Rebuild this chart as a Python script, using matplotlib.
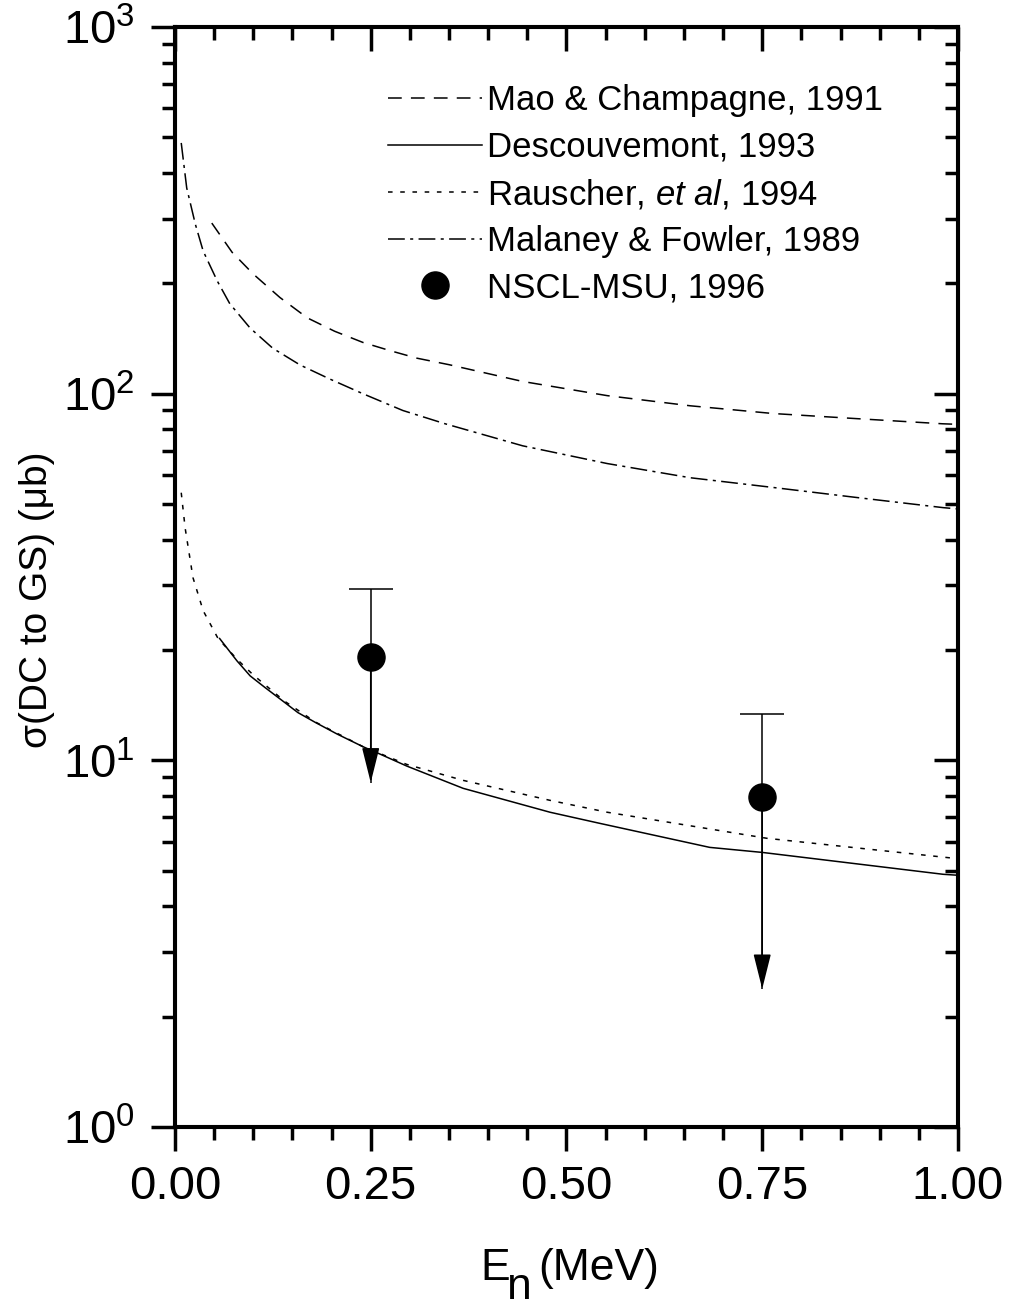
import numpy as np
import matplotlib
matplotlib.use('Agg')
import matplotlib.pyplot as plt
from matplotlib.ticker import LogLocator, MultipleLocator, NullFormatter
from matplotlib.patches import ArrowStyle

plt.rcParams['font.family'] = ['Liberation Sans', 'DejaVu Sans']
plt.rcParams['mathtext.fontset'] = 'custom'
plt.rcParams['mathtext.rm'] = 'Liberation Sans'
plt.rcParams['mathtext.it'] = 'Liberation Sans:italic'
plt.rcParams['mathtext.default'] = 'regular'

# Mao & Champagne, 1991
mao_e = [0.047, 0.073, 0.100, 0.134, 0.169, 0.204, 0.240, 0.275, 0.309, 0.350,
         0.444, 0.552, 0.658, 0.764, 0.871, 0.980, 1.000]
mao_s = [292, 243, 212, 183, 161, 148, 138, 131, 125, 120,
         108, 98.8, 92.7, 88.3, 85.5, 82.8, 82.5]

# Descouvemont, 1993
des_e = [0.057, 0.079, 0.096, 0.115, 0.138, 0.157, 0.179, 0.207, 0.240, 0.262,
         0.296, 0.368, 0.479, 0.543, 0.683, 0.750, 0.981, 1.000]
des_s = [21.5, 18.7, 17.0, 15.8, 14.5, 13.5, 12.7, 11.8, 10.9, 10.4,
         9.65, 8.39, 7.22, 6.73, 5.79, 5.61, 4.89, 4.86]

# Rauscher et al, 1994
rau_e = [0.008, 0.013, 0.023, 0.036, 0.055, 0.080, 0.100, 0.140, 0.180, 0.240,
         0.296, 0.368, 0.479, 0.552, 0.756, 0.994, 1.000]
rau_s = [53.7, 43.0, 31.5, 25.6, 21.5, 18.8, 17.1, 14.5, 12.7, 10.9,
         9.75, 8.82, 7.78, 7.22, 6.13, 5.41, 5.40]

# Malaney & Fowler, 1989
mal_e = [0.008, 0.015, 0.026, 0.036, 0.054, 0.070, 0.096, 0.125, 0.160, 0.198,
         0.240, 0.291, 0.345, 0.444, 0.552, 0.658, 0.764, 0.871, 0.981, 1.000]
mal_s = [483, 364, 290, 245, 203, 176, 151, 133, 119.7, 109.6,
         100, 90.0, 82.8, 72.1, 64.5, 59.0, 55.5, 52.1, 48.9, 48.5]

# NSCL-MSU, 1996 (points with upper error and arrow down to limit)
exp_e = [0.25, 0.75]
exp_s = [19.1, 7.93]
exp_up = [29.4, 13.4]
exp_tip = [8.7, 2.38]

fig = plt.figure(figsize=(10.12, 13.07), dpi=100)
ax = fig.add_axes([0.1729, 0.1377, 0.7737, 0.8416])

lw = 1.1
ax.plot(mao_e, mao_s, color='k', lw=lw, dashes=(9, 6), label='Mao & Champagne, 1991')
ax.plot(des_e, des_s, color='k', lw=lw, ls='-', label='Descouvemont, 1993')
ax.plot(rau_e, rau_s, color='k', lw=lw, dashes=(3, 5), label='Rauscher, $\\it{et\\ al}$, 1994')
ax.plot(mal_e, mal_s, color='k', lw=lw, dashes=(11, 3.5, 2, 3.5), label='Malaney & Fowler, 1989')

ax.vlines(exp_e, exp_tip, exp_up, color='k', lw=lw)
ax.plot(exp_e, exp_up, ls='none', marker='_', ms=32, mew=lw, color='k')
head = ArrowStyle('-|>', head_length=2.2, head_width=0.55)
for e, s, t in zip(exp_e, exp_s, exp_tip):
    ax.annotate('', xy=(e, t), xytext=(e, s),
                arrowprops=dict(arrowstyle=head, mutation_scale=10, color='k',
                                lw=lw, shrinkA=0, shrinkB=0))
ax.plot(exp_e, exp_s, ls='none', marker='o', ms=19.5, color='k', label='NSCL-MSU, 1996')

ax.set_yscale('log')
ax.set_xlim(0, 1)
ax.set_ylim(1, 1000)
ax.xaxis.set_major_locator(MultipleLocator(0.25))
ax.xaxis.set_minor_locator(MultipleLocator(0.05))
ax.xaxis.set_major_formatter(plt.FormatStrFormatter('%.2f'))
ax.yaxis.set_major_locator(LogLocator(base=10, numticks=10))
ax.yaxis.set_minor_locator(LogLocator(base=10, subs=np.arange(2, 10), numticks=20))
ax.yaxis.set_minor_formatter(NullFormatter())

for sp in ax.spines.values():
    sp.set_linewidth(2.9)

ax.tick_params(which='both', direction='out', width=2.5, labelsize=34, color='k')
ax.tick_params(which='major', length=17)
ax.tick_params(which='minor', length=9.5)
ax.tick_params(axis='x', pad=10)
ax.tick_params(axis='y', pad=12)

# mirrored ticks pointing inward on top and right
axr = ax.twinx()
axr.set_yscale('log')
axr.set_ylim(1, 1000)
axr.yaxis.set_major_locator(LogLocator(base=10, numticks=10))
axr.yaxis.set_minor_locator(LogLocator(base=10, subs=np.arange(2, 10), numticks=20))
axr.tick_params(which='both', direction='in', width=2.5, labelright=False)
axr.tick_params(which='major', length=17)
axr.tick_params(which='minor', length=9.5)
axt = ax.twiny()
axt.set_xlim(0, 1)
axt.xaxis.set_major_locator(MultipleLocator(0.25))
axt.xaxis.set_minor_locator(MultipleLocator(0.05))
axt.tick_params(which='both', direction='in', width=2.5, labeltop=False)
axt.tick_params(which='major', length=17)
axt.tick_params(which='minor', length=9.5)
for a in (axr, axt):
    for sp in a.spines.values():
        sp.set_linewidth(2.9)

# x label: E with a full-size, lowered subscript n
ax.text(0.3895, -0.139, 'E', transform=ax.transAxes, fontsize=32, va='baseline', ha='left')
ax.text(0.424, -0.156, 'n', transform=ax.transAxes, fontsize=32, va='baseline', ha='left')
ax.text(0.4636, -0.139, '(MeV)', transform=ax.transAxes, fontsize=32, va='baseline', ha='left')

ax.set_ylabel('σ(DC to GS) (μb)', fontsize=28)
ax.yaxis.set_label_coords(-0.153, 0.479)

leg = ax.legend(loc='upper left', bbox_to_anchor=(0.272, 0.948), frameon=False,
                fontsize=25, handlelength=2.7, handletextpad=0.15, labelspacing=0.39,
                borderpad=0, borderaxespad=0, numpoints=1)
leg.set_zorder(5)

fig.savefig('out.png', dpi=100)
